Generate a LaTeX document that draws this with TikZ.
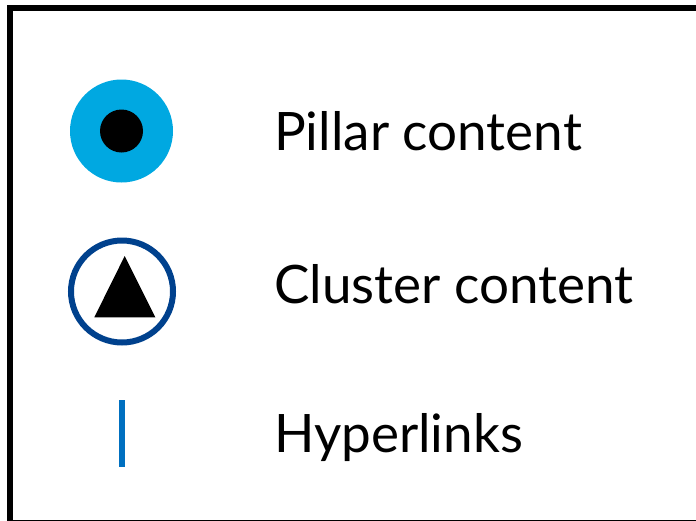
\documentclass[tikz,border=0pt]{standalone}
\usepackage{fontspec}
\setmainfont{Lato}
\usepackage{tikz}
\definecolor{pillarblue}{HTML}{00A8E1}
\definecolor{clusterblue}{HTML}{00418D}
\definecolor{linkblue}{HTML}{0070C0}
\tikzset{
  legendtext/.style={anchor=base west,inner sep=0pt,font=\fontsize{53}{60}\selectfont},
  symbol/.style={circle,inner sep=0pt}
}

\begin{document}
\begin{tikzpicture}[x=1pt,y=-1pt]
          \useasboundingbox (0,0) rectangle (696,520);
          \draw[line width=6pt] (10,7.5) rectangle (703,523);
          %\draw[very thin,lightgray] (0,0) grid[step=50] (696,520);
          \node[symbol,fill=pillarblue,minimum size=103pt] (pillar) at (121.5,131) {};
          \node[symbol,fill=black,minimum size=43pt] (pillardot) at (pillar.center) {};
          \node[symbol,draw=clusterblue,line width=6pt,minimum size=102pt] (cluster) at (122,291.5) {};
          \fill (cluster.center) ++(2.7,-35.5) -- ++(-30.4,61.3) -- ++(61,0) -- cycle;
          \node[fill=linkblue,inner sep=0pt,minimum width=6pt,minimum height=67pt] (link) at (122.3,433.5) {};
          \node[legendtext] (pillartext) at (274,150) {Pillar content};
          \node[legendtext] (clustertext) at (274,303) {Cluster content};
          \node[legendtext] (linktext) at (274,452) {Hyperlinks};
        \end{tikzpicture}
\end{document}
